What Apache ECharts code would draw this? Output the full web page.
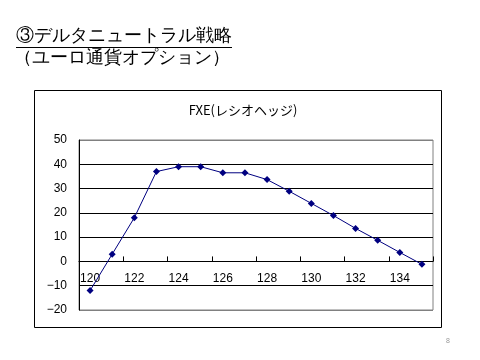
<!DOCTYPE html>
<html>
<head>
<meta charset="utf-8">
<script src="https://cdn.jsdelivr.net/npm/echarts@6/dist/echarts.min.js"></script>
<style>html,body{margin:0;padding:0;background:#fff;}#c{width:480px;height:360px;}</style>
</head>
<body>
<div id="c"></div>
<script>
var categories = ['120','121','122','123','124','125','126','127','128','129','130','131','132','133','134','135'];
var values = [-12, 3, 18, 37, 39, 39, 36.5, 36.5, 33.7, 28.9, 23.9, 18.9, 13.6, 8.7, 3.7, -1.2];
var yTicks = [-20, -10, 0, 10, 20, 30, 40, 50];
var headingLine1 = '③デルタニュートラル戦略';
var headingLine2 = '（ユーロ通貨オプション）';
var chartTitle = 'FXE(レシオヘッジ)';
var pageNumber = '8';

var yMin = yTicks[0], yMax = yTicks[yTicks.length - 1];
var gridTop = 140, gridBottom = 50, gridH = 360 - gridTop - gridBottom;
var zeroOffset = gridH * (0 - yMin) / (yMax - yMin);

var chart = echarts.init(document.getElementById('c'), null, {renderer: 'canvas'});
var jp = '"Noto Sans CJK JP", sans-serif';
var num = '"Liberation Sans", Arial, sans-serif';
chart.setOption({
  animation: false,
  backgroundColor: '#fff',
  title: {
    text: chartTitle, left: 238, top: 99, textAlign: 'center',
    textStyle: {fontSize: 13, fontWeight: 'normal', color: '#000', fontFamily: jp}
  },
  grid: {left: 79, right: 47, top: gridTop, bottom: gridBottom, show: true, borderColor: '#808080', borderWidth: 1, backgroundColor: 'transparent'},
  xAxis: {
    type: 'category', data: categories, boundaryGap: true, position: 'bottom',
    offset: -zeroOffset,
    axisLine: {onZero: false, lineStyle: {color: '#000', width: 1}},
    axisTick: {show: true, inside: true, length: 5, lineStyle: {color: '#000'}},
    axisLabel: {interval: 1, margin: 11, fontSize: 12, color: '#000', fontFamily: num},
    splitLine: {show: false}
  },
  yAxis: {
    type: 'value', min: yMin, max: yMax, interval: 10,
    axisLine: {show: true, lineStyle: {color: '#000'}},
    axisTick: {show: false},
    axisLabel: {margin: 12, fontSize: 12, color: '#000', fontFamily: num,
      formatter: function (v) { return String(v).replace('-', '−'); }},
    splitLine: {show: true, lineStyle: {color: ['#808080', '#000', '#000', '#000', '#000', '#000', '#000', '#808080'], width: 1}}
  },
  series: [{
    type: 'line', data: values,
    symbol: 'diamond', symbolSize: 7,
    lineStyle: {color: '#000080', width: 1},
    itemStyle: {color: '#000080'}
  }],
  graphic: [
    {type: 'rect', shape: {x: 34.5, y: 90.5, width: 407, height: 237}, style: {fill: null, stroke: '#000', lineWidth: 1}, z: -1},
    {type: 'text', left: 16, top: 27, style: {text: headingLine1, fontSize: 18, fill: '#000', font: '18px ' + jp}},
    {type: 'line', shape: {x1: 16, y1: 47.5, x2: 232, y2: 47.5}, style: {stroke: '#000', lineWidth: 1}},
    {type: 'text', left: 14, top: 49, style: {text: headingLine2, fontSize: 18, fill: '#000', font: '18px ' + jp}},
    {type: 'text', left: 446, top: 338, style: {text: pageNumber, fill: '#999', font: '7px ' + num}}
  ]
});
</script>
</body>
</html>
